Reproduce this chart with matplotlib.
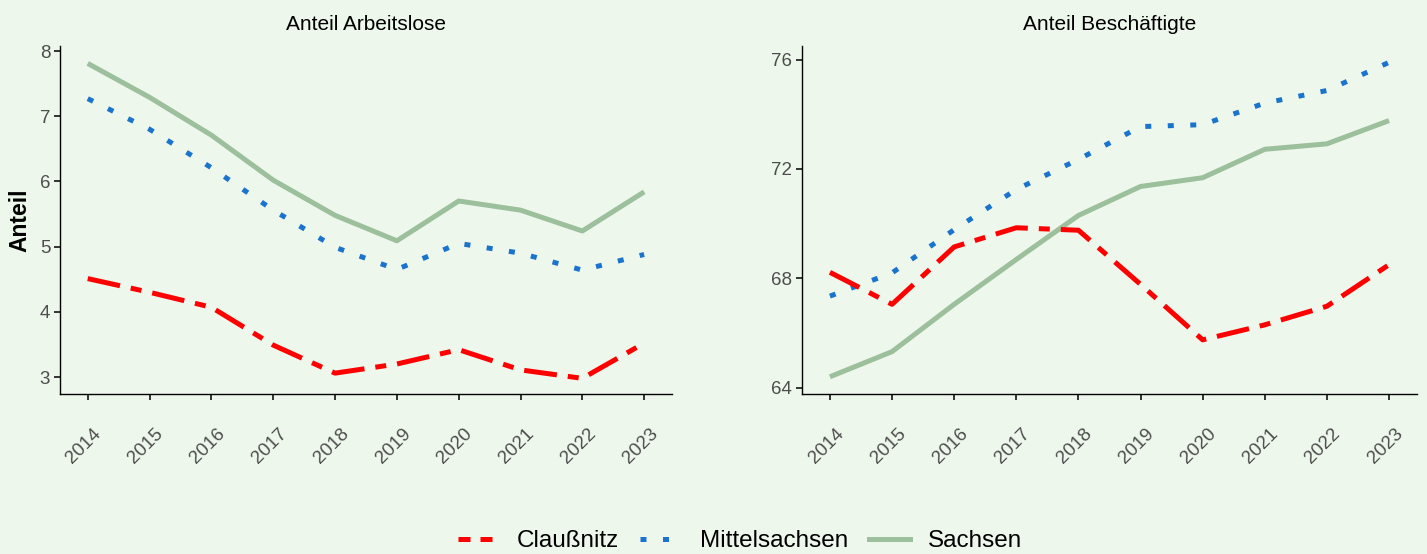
import matplotlib
matplotlib.use("Agg")
import matplotlib.pyplot as plt
import matplotlib.transforms as mtransforms
from matplotlib.lines import Line2D

plt.rcParams['font.family'] = ['Liberation Sans', 'DejaVu Sans']

years = [2014, 2015, 2016, 2017, 2018, 2019, 2020, 2021, 2022, 2023]

# Anteil Arbeitslose
arbl_claussnitz = [4.51, 4.30, 4.07, 3.49, 3.06, 3.20, 3.42, 3.11, 2.98, 3.52]
arbl_mittelsachsen = [7.27, 6.80, 6.21, 5.56, 4.99, 4.65, 5.05, 4.90, 4.64, 4.88]
arbl_sachsen = [7.81, 7.29, 6.71, 6.02, 5.48, 5.09, 5.70, 5.56, 5.24, 5.84]

# Anteil Beschaeftigte
besch_claussnitz = [68.22, 67.05, 69.15, 69.85, 69.76, 67.78, 65.75, 66.30, 66.98, 68.50]
besch_mittelsachsen = [67.35, 68.20, 69.78, 71.25, 72.35, 73.55, 73.62, 74.41, 74.87, 75.90]
besch_sachsen = [64.40, 65.32, 67.05, 68.69, 70.30, 71.36, 71.68, 72.72, 72.92, 73.77]

bg = '#EEF7EC'
c_red = '#FF0000'
c_blue = '#1A73CC'
c_green = '#9CBF9C'
lw = 3.6
ls_red = (0, (6.6, 2.2, 2.2, 2.2))
ls_blue = (0, (1.2, 3.3))

fig = plt.figure(figsize=(14.27, 5.54), dpi=100, facecolor=bg)
ax1 = fig.add_axes([0.0420, 0.2888, 0.4289, 0.6273])
ax2 = fig.add_axes([0.5620, 0.2888, 0.4310, 0.6273])

# shift rotated year labels a little to the right
shift = mtransforms.ScaledTranslation(5 / 100, 0, fig.dpi_scale_trans)


def draw_panel(ax, cl, mi, sa, title, yticks, ylim):
    ax.set_facecolor(bg)
    ax.plot(years, sa, color=c_green, lw=lw, solid_capstyle='butt')
    ax.plot(years, mi, color=c_blue, lw=lw, linestyle=ls_blue, dash_capstyle='butt')
    ax.plot(years, cl, color=c_red, lw=lw, linestyle=ls_red, dash_capstyle='butt')
    ax.set_xlim(2013.55, 2023.45)
    ax.set_ylim(*ylim)
    ax.set_xticks(years)
    ax.set_xticklabels([str(y) for y in years], rotation=45, ha='right',
                       va='top', rotation_mode='anchor')
    ax.set_yticks(yticks)
    for s in ['top', 'right']:
        ax.spines[s].set_visible(False)
    for s in ['left', 'bottom']:
        ax.spines[s].set_color('black')
        ax.spines[s].set_linewidth(1.0)
    ax.tick_params(axis='both', length=4, width=1.4, color='#333333',
                   labelcolor='#4D4D4D', labelsize=13.5, pad=3)
    ax.tick_params(axis='x', pad=18.5)
    for lab in ax.get_xticklabels():
        lab.set_transform(lab.get_transform() + shift)
    ax.set_title(title, fontsize=15, pad=12)


draw_panel(ax1, arbl_claussnitz, arbl_mittelsachsen, arbl_sachsen,
           'Anteil Arbeitslose', [3, 4, 5, 6, 7, 8], (2.74, 8.07))
draw_panel(ax2, besch_claussnitz, besch_mittelsachsen, besch_sachsen,
           'Anteil Beschäftigte', [64, 68, 72, 76], (63.77, 76.48))

ax1.set_ylabel('Anteil', fontsize=16.5, fontweight='bold', labelpad=6)

handles = [
    Line2D([], [], color=c_red, lw=lw, linestyle=(0, (2.4, 2.0)), dash_capstyle='butt'),
    Line2D([], [], color=c_blue, lw=lw, linestyle=(0, (1.2, 3.3)), dash_capstyle='butt'),
    Line2D([], [], color=c_green, lw=lw),
]
# legend centred on the panel area, like ggplot does
fig.legend(handles, ['Claußnitz', 'Mittelsachsen', 'Sachsen'], loc='lower center',
           bbox_to_anchor=(0.5186, -0.036), ncol=3, frameon=False, fontsize=17.5,
           handlelength=1.7, columnspacing=0.85, handletextpad=0.75)

fig.savefig('out.png', dpi=100, facecolor=bg)
